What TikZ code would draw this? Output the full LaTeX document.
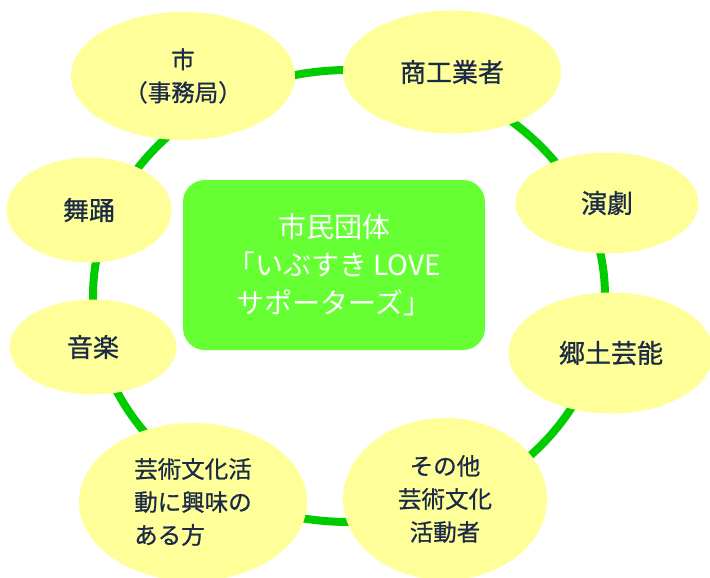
\documentclass[tikz,border=0pt]{standalone}
\usepackage{fontspec}
\setmainfont{Noto Sans CJK JP}
\newfontfamily\bubblefont[FakeBold=0.8]{Noto Sans CJK JP}
\usetikzlibrary{shapes.geometric}
\definecolor{ringgreen}{HTML}{00CC00}
\definecolor{boxgreen}{HTML}{66FF33}
\definecolor{bubble}{HTML}{FFFF99}
\definecolor{navy}{HTML}{1B2A47}

\begin{document}
\begin{tikzpicture}[x=1pt,y=-1pt,
    member node/.style={ellipse,fill=bubble,text=navy,inner sep=0pt,align=center,font=\bubblefont\fontsize{26}{33}\selectfont},
    small node/.style={member node,font=\bubblefont\fontsize{23.5}{33}\selectfont},
    group node/.style={rectangle,rounded corners=22pt,fill=boxgreen,text=white,minimum width=302pt,minimum height=170pt,align=center,font=\fontsize{28}{38}\selectfont}]

\useasboundingbox (0,0) rectangle (710,578);
\coordinate (ring) at (349,296);
\draw[ringgreen,line width=8pt] (ring) ellipse [x radius=256pt, y radius=226pt];

\node[group node]                                              (0) at (334,265) {市民団体\\「いぶすき LOVE\\サポーターズ」};

\node[small node,minimum width=224pt,minimum height=128pt]    (1) at (183,76)  {市\\（事務局）};
\node[member node,minimum width=218pt,minimum height=123pt]   (2) at (452,72)  {商工業者};
\node[member node,minimum width=183pt,minimum height=101pt]   (3) at (607,203) {演劇};
\node[member node,minimum width=205pt,minimum height=121pt]   (4) at (611,353) {郷土芸能};
\node[small node,minimum width=204pt,minimum height=162pt]    (5) at (445,499) {その他\\芸術文化\\活動者};
\node[small node,minimum width=228pt,minimum height=158pt,align=left] (6) at (193,502) {芸術文化活\\動に興味の\\ある方};
\node[member node,minimum width=167pt,minimum height=95pt]    (7) at (93,347)  {音楽};
\node[member node,minimum width=165pt,minimum height=105pt]   (8) at (89,210)  {舞踊};
\end{tikzpicture}
\end{document}
